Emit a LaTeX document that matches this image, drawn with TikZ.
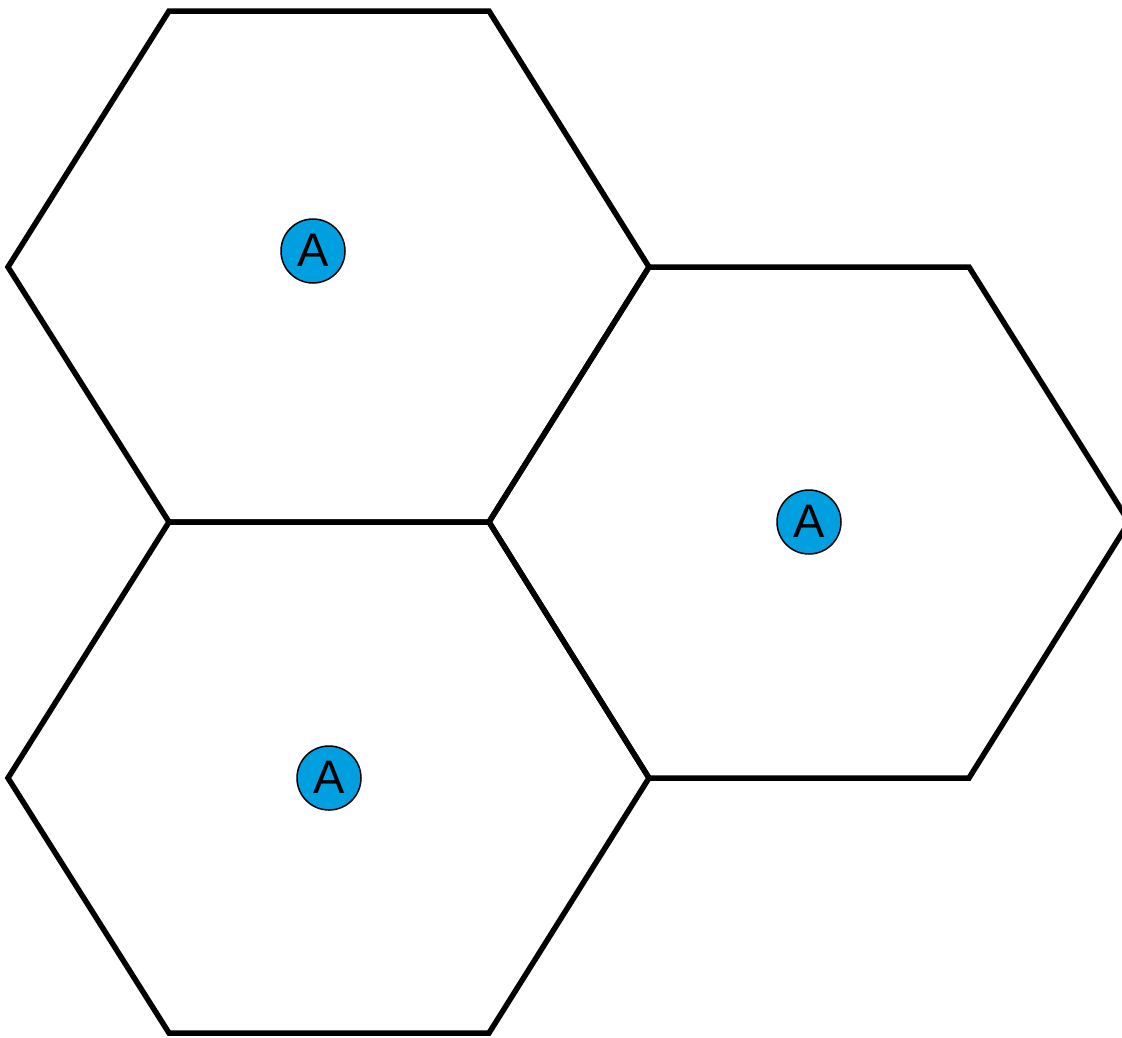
\documentclass[tikz,border=0pt]{standalone}
\usepackage{fontspec}
\setmainfont{Liberation Sans}
\definecolor{cellblue}{HTML}{009FDF}
\begin{document}
\begin{tikzpicture}[x=1pt,y=-1pt,
  hexline/.style={line width=5.5pt,line join=miter,black},
  station/.style={circle,draw=black,line width=1.5pt,fill=cellblue,minimum size=64pt,inner sep=0pt,font=\fontsize{47}{50}\selectfont}]
\useasboundingbox (0,0) rectangle (1122,1037);
\clip (0,0) rectangle (1122,1037);
\coordinate (a1) at (169,11); \coordinate (a2) at (489,11); \coordinate (a3) at (649,267);
\coordinate (a4) at (489,522); \coordinate (a5) at (169,522); \coordinate (a6) at (8,267);
\coordinate (b1) at (969,267); \coordinate (b2) at (1129,522); \coordinate (b3) at (969,778);
\coordinate (b4) at (649,778);
\coordinate (c1) at (489,1033); \coordinate (c2) at (169,1033); \coordinate (c3) at (8,778);
\draw[hexline] (a1) -- (a2) -- (a3) -- (a4) -- (a5) -- (a6) -- cycle;
\draw[hexline] (a3) -- (b1) -- (b2) -- (b3) -- (b4) -- (a4) -- cycle;
\draw[hexline] (a5) -- (a4) -- (b4) -- (c1) -- (c2) -- (c3) -- cycle;
\node[station] (s1) at (313,251) {\raisebox{1pt}{A}};
\node[station] (s2) at (809,522) {\raisebox{1pt}{A}};
\node[station] (s3) at (329,778) {\raisebox{1pt}{A}};
\end{tikzpicture}
\end{document}
